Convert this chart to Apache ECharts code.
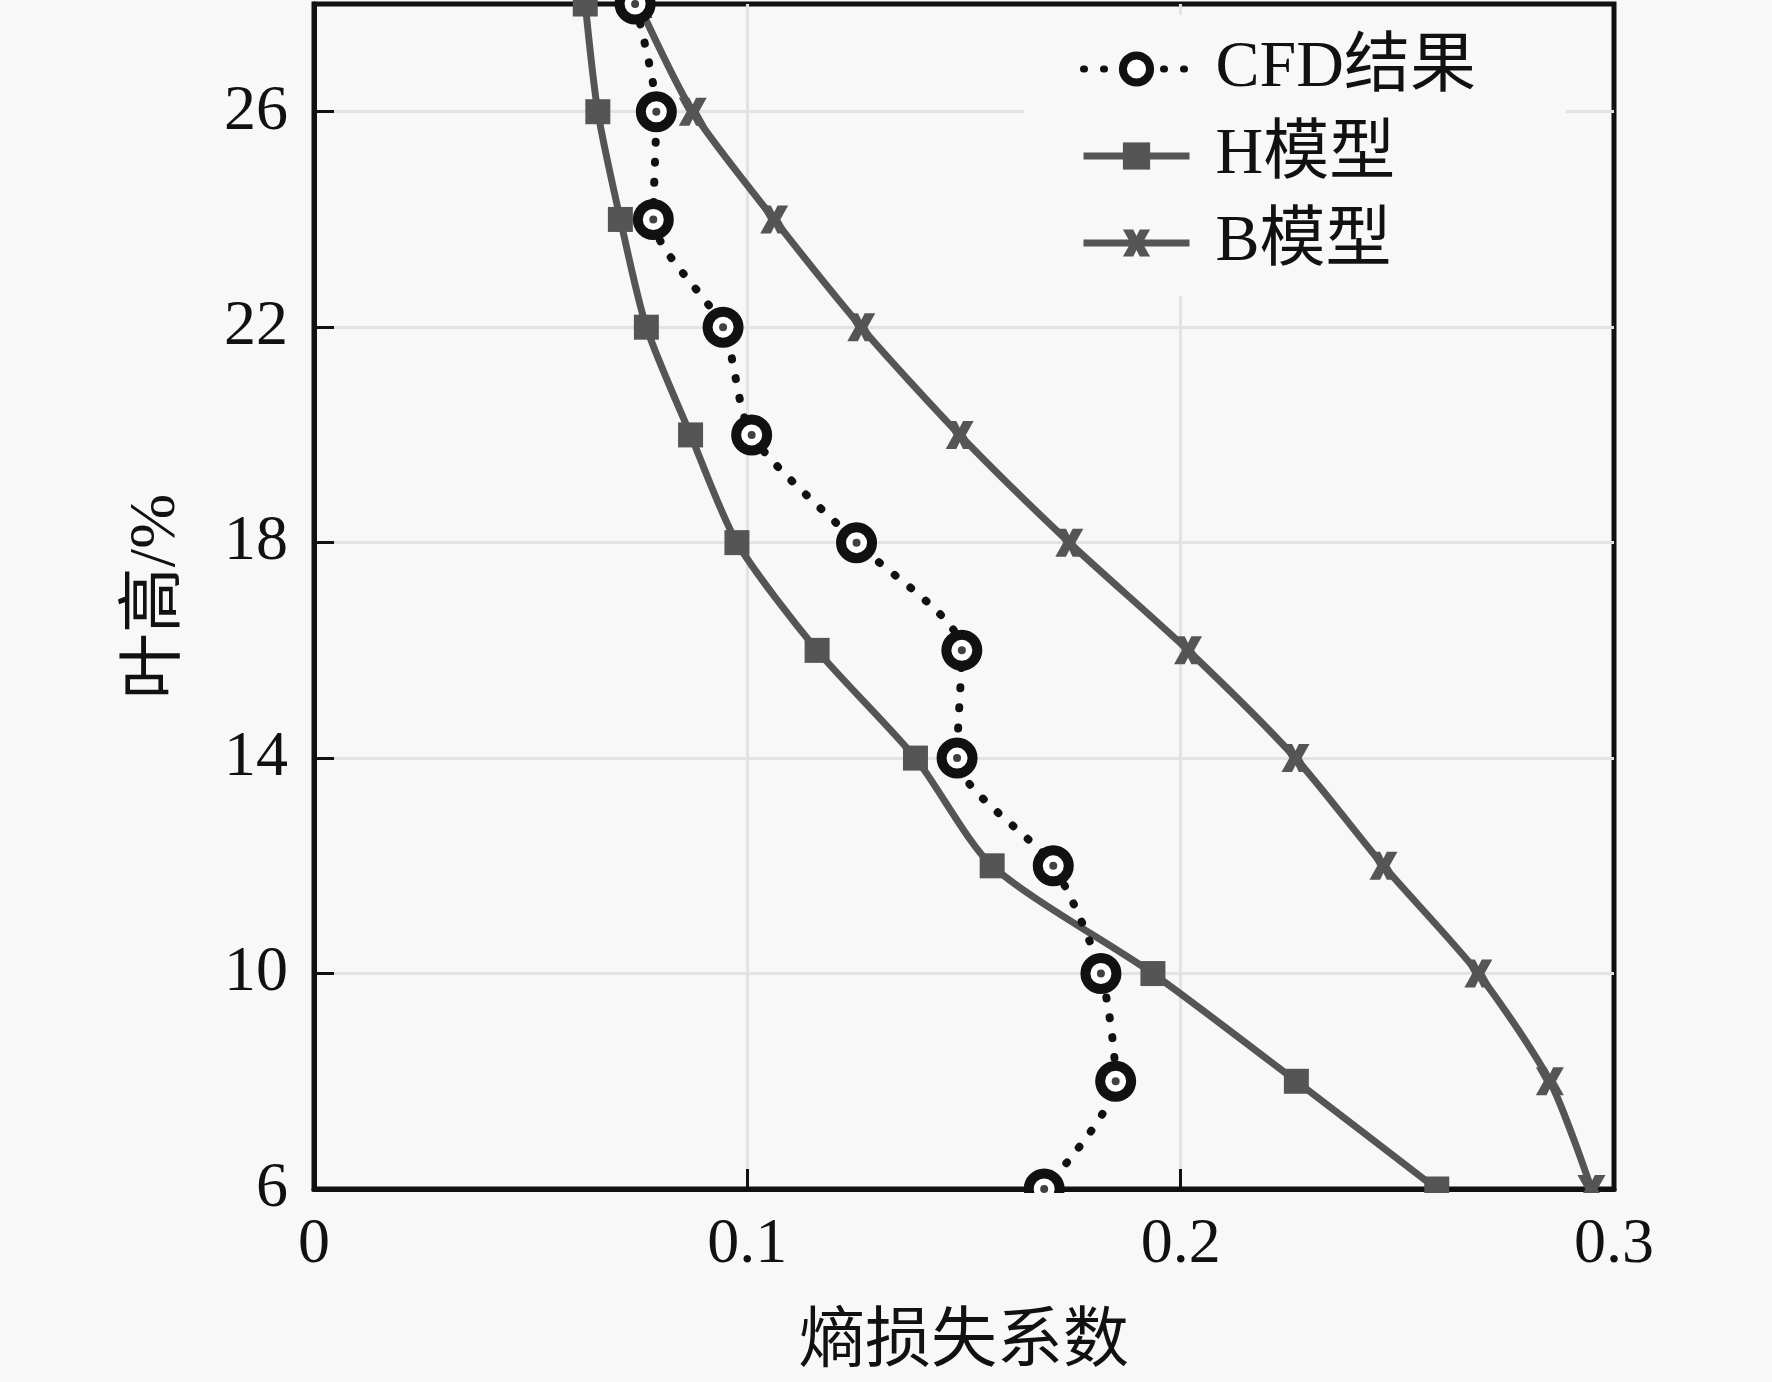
<!DOCTYPE html>
<html>
<head>
<meta charset="utf-8">
<script src="https://cdn.jsdelivr.net/npm/echarts@6/dist/echarts.min.js"></script>
<style>
html,body{margin:0;padding:0;background:#f8f8f8;}
#chart{width:1772px;height:1382px;}
</style>
</head>
<body>
<div id="chart"></div>
<script>
// ---- data ----
const heights = [28, 26, 24, 22, 20, 18, 16, 14, 12, 10, 8, 6];
const cfdValues = [0.0741, 0.0790, 0.0783, 0.0944, 0.1010, 0.1252, 0.1495, 0.1484, 0.1706, 0.1816, 0.1850, 0.1685];
const hModelValues = [0.0626, 0.0655, 0.0707, 0.0767, 0.0869, 0.0976, 0.1161, 0.1388, 0.1565, 0.1936, 0.2267, 0.2591];
const bModelValues = [0.0749, 0.0874, 0.1062, 0.1263, 0.1490, 0.1743, 0.2017, 0.2265, 0.2468, 0.2687, 0.2852, 0.2948];
const seriesNames = ['CFD结果', 'H模型', 'B模型'];
const xAxisName = '熵损失系数';
const yAxisName = '叶高/%';

const pairs = (xs) => xs.map((v, i) => [v, heights[i]]);

const serifFont = "'Liberation Serif', 'Times New Roman', 'Noto Sans CJK SC', serif";
const gray = '#555555';
const xMark = 'path://M0,0 L3.8,0 L5,2.4 L6.2,0 L10,0 L7.2,5 L10,10 L6.2,10 L5,7.6 L3.8,10 L0,10 L2.8,5 Z';

const chart = echarts.init(document.getElementById('chart'), null, {renderer: 'canvas'});
chart.setOption({
  backgroundColor: '#f8f8f8',
  animation: false,
  grid: {
    left: 314, right: 158, top: 4, bottom: 192,
    show: true, borderColor: '#111', borderWidth: 5, backgroundColor: '#f8f8f8'
  },
  legend: {
    data: [
      {name: seriesNames[0], itemStyle: {borderWidth: 8, borderColor: '#111', color: '#ffffff'}, lineStyle: {width: 7}},
      {name: seriesNames[1], lineStyle: {width: 7}},
      {name: seriesNames[2], lineStyle: {width: 7}}
    ],
    orient: 'vertical',
    left: 1024, top: 15,
    padding: [21, 90, 20, 56],
    backgroundColor: '#f8f8f8',
    itemWidth: 106, itemHeight: 34, itemGap: 21,
    lineStyle: {width: 7},
    textStyle: {fontFamily: serifFont, fontSize: 66, color: '#111', padding: [0, 0, 0, 21], lineHeight: 66}
  },
  xAxis: {
    type: 'value', min: 0, max: 0.3, interval: 0.1,
    name: xAxisName, nameLocation: 'middle', nameGap: 122,
    nameTextStyle: {fontFamily: serifFont, fontSize: 66, color: '#111'},
    axisLine: {show: true, onZero: false, lineStyle: {color: '#111', width: 5}},
    axisTick: {show: true, inside: true, length: 20, lineStyle: {color: '#111', width: 3}},
    axisLabel: {fontFamily: serifFont, fontSize: 64, color: '#111', margin: 24},
    splitLine: {show: true, showMinLine: false, showMaxLine: false, lineStyle: {color: '#e3e3e3', width: 3}}
  },
  yAxis: {
    type: 'value', min: 6, max: 28, interval: 4,
    name: yAxisName, nameLocation: 'middle', nameGap: 124, nameRotate: 90,
    nameTextStyle: {fontFamily: serifFont, fontSize: 66, color: '#111'},
    axisLine: {show: true, onZero: false, lineStyle: {color: '#111', width: 5}},
    axisTick: {show: true, inside: true, length: 20, lineStyle: {color: '#111', width: 3}},
    axisLabel: {fontFamily: serifFont, fontSize: 64, color: '#111', margin: 26,
      formatter: (v) => (v === 28 ? '' : String(v))},
    splitLine: {show: true, showMinLine: false, showMaxLine: false, lineStyle: {color: '#e3e3e3', width: 3}}
  },
  graphic: [
    {type: 'rect', left: 300, top: 1193, shape: {width: 1472, height: 22}, style: {fill: '#f8f8f8'}, z: 100, silent: true}
  ],
  series: [
    {
      name: seriesNames[1], type: 'line', data: pairs(hModelValues),
      smooth: 0.25, symbol: 'rect', symbolSize: 25,
      lineStyle: {color: gray, width: 7},
      itemStyle: {color: gray}, z: 3
    },
    {
      name: seriesNames[2], type: 'line', data: pairs(bModelValues),
      smooth: 0.25, symbol: xMark, symbolSize: 28,
      lineStyle: {color: gray, width: 7},
      itemStyle: {color: gray}, z: 3
    },
    {
      name: seriesNames[0], type: 'line', data: pairs(cfdValues),
      smooth: 0.25, symbol: 'circle', symbolSize: 31,
      lineStyle: {color: '#111', width: 8, type: [1, 19], cap: 'round'},
      itemStyle: {color: '#ffffff', borderColor: '#111', borderWidth: 10}, z: 4
    },
    {
      name: 'cfd-center', type: 'scatter', data: pairs(cfdValues),
      symbol: 'circle', symbolSize: 8, silent: true,
      itemStyle: {color: '#111'}, z: 5
    }
  ]
});
</script>
</body>
</html>
